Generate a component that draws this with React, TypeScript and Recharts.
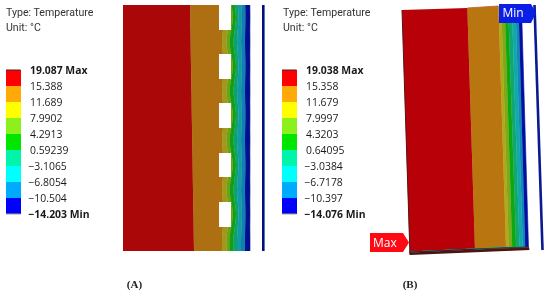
import React from "react";
import {
  Area,
  Bar,
  BarChart,
  ComposedChart,
  ReferenceArea,
  ReferenceDot,
  ReferenceLine,
  XAxis,
  YAxis,
} from "recharts";

// Scale labels, top to bottom
const labelsA = ["19.087 Max", "15.388", "11.689", "7.9902", "4.2913", "0.59239", "\u22123.1065", "\u22126.8054", "\u221210.504", "\u221214.203 Min"];
const labelsB = ["19.038 Max", "15.358", "11.679", "7.9997", "4.3203", "0.64095", "\u22123.0384", "\u22126.7178", "\u221210.397", "\u221214.076 Min"];

// Contour band names, hottest to coldest
const bandKeys = ["red", "orange", "olive", "lime", "green", "tealGreen", "teal", "sky", "blue"];
const scaleColors = ["#ff0000", "#ffaa08", "#ffff00", "#8cf01e", "#00e600", "#00f5aa", "#00ffff", "#00aaff", "#0000ff"];
const bandColorsA = ["#aa0808", "#ad6f12", "#a09a18", "#70a018", "#10a010", "#10a070", "#109ca4", "#1080b0", "#001090"];
const bandColorsB = ["#b80008", "#b87510", "#b0a818", "#80a818", "#10a810", "#10a870", "#10a8a8", "#1088b8", "#0010a0"];

// Panel A: thickness of each band along the wall height
const rowsA = [0, 12, 25, 37, 49, 61, 74, 86, 98, 110, 123, 135, 148, 160, 172, 185, 197, 209, 222, 234, 246];
const redA = [67, 67.2, 67.4, 67.6, 67.8, 68, 68.2, 68.4, 68.6, 68.8, 69, 69.2, 69.4, 69.6, 69.8, 70, 70.2, 70.4, 70.6, 70.8, 71];
const orangeA = [33, 33.8, 32.6, 31.4, 32.2, 33, 31.8, 30.6, 31.4, 32.2, 31, 29.8, 30.6, 31.4, 30.2, 29, 29.8, 30.6, 29.4, 28.2, 28];
const oliveA = [4.8, 5, 4.8, 4.5, 4.8, 5, 4.8, 4.5, 4.8, 5, 4.8, 4.5, 4.8, 5, 4.8, 4.5, 4.8, 5, 4.8, 4.5, 4.5];
const limeA = [3.5, 4, 3.5, 3, 3.5, 4, 3.5, 3, 3.5, 4, 3.5, 3, 3.5, 4, 3.5, 3, 3.5, 4, 3.5, 3, 3];
const greenA = [3.5, 3, 3.5, 4, 3.5, 3, 3.5, 4, 3.5, 3, 3.5, 4, 3.5, 3, 3.5, 4, 3.5, 3, 3.5, 4, 4];
const tealGreenA = [3, 2.5, 3, 3.5, 3, 2.5, 3, 3.5, 3, 2.5, 3, 3.5, 3, 2.5, 3, 3.5, 3, 2.5, 3, 3.5, 3.5];
const tealA = [3.7, 3.5, 3.7, 4, 3.7, 3.5, 3.7, 4, 3.7, 3.5, 3.7, 4, 3.7, 3.5, 3.7, 4, 3.7, 3.5, 3.7, 4, 4];
const skyA = [3.7, 3.5, 3.7, 4, 3.7, 3.5, 3.7, 4, 3.7, 3.5, 3.7, 4, 3.7, 3.5, 3.7, 4, 3.7, 3.5, 3.7, 4, 4];
const blueA = [4.7, 4.5, 4.7, 5, 4.7, 4.5, 4.7, 5, 4.7, 4.5, 4.7, 5, 4.7, 4.5, 4.7, 5, 4.7, 4.5, 4.7, 5, 5];
const bandsA = [redA, orangeA, oliveA, limeA, greenA, tealGreenA, tealA, skyA, blueA];
const notchTopsA = [0, 49, 98, 148, 197];
const notchBottomsA = [25, 74, 123, 172, 222];

// Panel B: oblique view, start of the stack and thickness of each band per row
const rowsB = [6, 8, 10, 247, 249, 252];
const startB = [498.3, 467.3, 402, 409.5, 409.5, 409.5];
const redB = [0, 0, 65.4, 65.4, 65.5, 0];
const orangeB = [0, 31.3, 31.2, 31.1, 0, 0];
const oliveB = [2.7, 2.7, 2.7, 2.8, 0, 0];
const limeB = [3.5, 3.5, 3.5, 3.4, 0, 0];
const greenB = [3.5, 3.5, 3.5, 4, 0, 0];
const tealGreenB = [3.7, 3.7, 3.7, 3.3, 0, 0];
const tealB = [3.6, 3.6, 3.6, 3.3, 0, 0];
const skyB = [3, 3, 3, 2.4, 0, 0];
const blueB = [3, 3, 3, 3.3, 0, 0];
const bandsB = [redB, orangeB, oliveB, limeB, greenB, tealGreenB, tealB, skyB, blueB];
const undersideRowsB = [247, 250, 252, 255];
const undersideStartB = [529, 457, 409.5, 410];
const undersideWidthB = [0, 72.5, 72.2, 0];

const tableA = rowsA.map((y, i) => {
  const row: Record<string, number> = { y };
  bandKeys.forEach((k, b) => (row[k] = bandsA[b][i]));
  return row;
});
const tableB = rowsB.map((y, i) => {
  const row: Record<string, number> = { y, start: startB[i] };
  bandKeys.forEach((k, b) => (row[k] = bandsB[b][i]));
  return row;
});
const tableUnder = undersideRowsB.map((y, i) => ({ y, start: undersideStartB[i], width: undersideWidthB[i] }));

const UI_FONT = "'Open Sans', 'Noto Sans', sans-serif";

function ScaleChart({ labels, left }: { labels: string[]; left: number }) {
  const row: Record<string, number | string> = { name: "scale" };
  bandKeys.forEach((k) => (row[k] = 1));
  const Tick = (props: any) => {
    const text = labels[9 - props.payload.value];
    const bold = text.includes("M");
    return (
      <text
        x={24 - (text[0] === "\u2212" ? 1.6 : 0)}
        y={props.y}
        dy={3.8}
        fontFamily={UI_FONT}
        fontSize={10.4}
        fontWeight={bold ? 700 : 400}
        fill="#1a1a1a"
      >
        {text}
      </text>
    );
  };
  return (
    <div style={{ position: "absolute", left, top: 60 }}>
      <BarChart
        width={100}
        height={164}
        data={[row]}
        margin={{ top: 10, bottom: 10, left: 0, right: 0 }}
        barCategoryGap={0}
      >
        <XAxis dataKey="name" hide />
        <YAxis
          type="number"
          domain={[0, 9]}
          ticks={[0, 1, 2, 3, 4, 5, 6, 7, 8, 9]}
          orientation="right"
          width={85.5}
          axisLine={false}
          tickLine={false}
          tick={Tick}
          interval={0}
        />
        {[...bandKeys].reverse().map((k, i) => (
          <Bar key={k} dataKey={k} stackId="s" fill={scaleColors[8 - i]} isAnimationActive={false} />
        ))}
        <ReferenceLine y={9} stroke="#3a2a2a" strokeWidth={1} />
        <ReferenceLine y={0} stroke="#b0a070" strokeWidth={1} />
      </BarChart>
    </div>
  );
}

function Heading({ left }: { left: number }) {
  return (
    <div
      style={{
        position: "absolute",
        left,
        top: 6,
        fontFamily: "Roboto, 'Open Sans', sans-serif",
        fontSize: 10.6,
        lineHeight: "14.5px",
        color: "#333",
        whiteSpace: "nowrap",
      }}
    >
      <div>Type: Temperature</div>
      <div>Unit: °C</div>
    </div>
  );
}

function Caption({ center, text }: { center: number; text: string }) {
  return (
    <div
      style={{
        position: "absolute",
        left: center - 20,
        width: 40,
        top: 277,
        textAlign: "center",
        fontFamily: "'Liberation Serif', serif",
        fontWeight: 700,
        fontSize: 11,
        lineHeight: "14px",
        color: "#222",
      }}
    >
      ({text})
    </div>
  );
}

function PanelA() {
  return (
    <div style={{ position: "absolute", left: 123, top: 5 }}>
      <ComposedChart width={142} height={246} layout="vertical" data={tableA} margin={{ top: 0, right: 0, bottom: 0, left: 0 }}>
        <XAxis type="number" domain={[0, 142]} hide />
        <YAxis type="number" dataKey="y" domain={[0, 246]} hide />
        {bandKeys.map((k, i) => (
          <Area
            key={k}
            dataKey={k}
            stackId="a"
            type="monotone"
            fill={bandColorsA[i]}
            fillOpacity={1}
            stroke={bandColorsA[i]}
            strokeWidth={0.6}
            dot={false}
            activeDot={false}
            isAnimationActive={false}
          />
        ))}
        {notchTopsA.map((t, i) => (
          <ReferenceArea key={t} x1={96} x2={108} y1={t} y2={notchBottomsA[i]} fill="#ffffff" fillOpacity={1} stroke="none" />
        ))}
        <ReferenceArea x1={139} x2={141.6} y1={0} y2={246} fill="#00107f" fillOpacity={1} stroke="none" />
      </ComposedChart>
    </div>
  );
}

const Callout = (props: any) => {
  const { cx, cy, dir, text, fill } = props;
  const pts =
    dir === "left"
      ? `${cx - 39},${cy - 9.5} ${cx - 6},${cy - 9.5} ${cx},${cy} ${cx - 6},${cy + 9.5} ${cx - 39},${cy + 9.5}`
      : `${cx - 37},${cy - 9} ${cx - 5},${cy - 9} ${cx},${cy} ${cx - 5},${cy + 10} ${cx - 37},${cy + 10}`;
  return (
    <g>
      <polygon points={pts} fill={fill} />
      <text
        x={cx - (dir === "left" ? 36 : 33.5)}
        y={cy + 4.3}
        fontFamily={UI_FONT}
        fontSize={12}
        fill="#ffffff"
      >
        {text}
      </text>
    </g>
  );
};

function PanelB() {
  return (
    <div style={{ position: "absolute", left: 275, top: 0 }}>
      <ComposedChart width={275} height={293} layout="vertical" data={tableB} margin={{ top: 0, right: 0, bottom: 0, left: 0 }}>
        <XAxis type="number" domain={[275, 550]} hide allowDataOverflow />
        <YAxis type="number" dataKey="y" domain={[0, 293]} hide />
        <Area
          data={tableUnder}
          dataKey="start"
          stackId="under"
          type="linear"
          fill="none"
          stroke="none"
          dot={false}
          activeDot={false}
          isAnimationActive={false}
        />
        <Area
          data={tableUnder}
          dataKey="width"
          stackId="under"
          type="linear"
          fill="#4a1410"
          fillOpacity={1}
          stroke="none"
          dot={false}
          activeDot={false}
          isAnimationActive={false}
        />
        <Area dataKey="start" stackId="b" type="linear" fill="none" stroke="none" dot={false} activeDot={false} isAnimationActive={false} />
        {bandKeys.map((k, i) => (
          <Area
            key={k}
            dataKey={k}
            stackId="b"
            type="linear"
            fill={bandColorsB[i]}
            fillOpacity={1}
            stroke={bandColorsB[i]}
            strokeWidth={0.6}
            dot={false}
            activeDot={false}
            isAnimationActive={false}
          />
        ))}
        <ReferenceLine segment={[{ x: 475, y: 249.3 }, { x: 409.5, y: 252.3 }]} stroke="#5a1410" strokeWidth={1} />
        <ReferenceLine segment={[{ x: 529, y: 247.3 }, { x: 475, y: 249.3 }]} stroke="#5a3a10" strokeWidth={1} />
        <ReferenceLine segment={[{ x: 402, y: 10 }, { x: 410, y: 255 }]} stroke="#5a1414" strokeWidth={1} />
        <ReferenceLine segment={[{ x: 534.5, y: 5 }, { x: 542.5, y: 250 }]} stroke="#0a1a90" strokeWidth={2.6} />
        <ReferenceDot x={409} y={242.5} r={1} shape={(p: any) => <Callout {...p} dir="left" text="Max" fill="#ff0a14" />} />
        <ReferenceDot x={536} y={13} r={1} shape={(p: any) => <Callout {...p} dir="right" text="Min" fill="#0a1ee6" />} />
      </ComposedChart>
    </div>
  );
}

export default function App() {
  return (
    <div style={{ position: "absolute", left: 0, top: 0, width: 550, height: 293, background: "#fff", overflow: "hidden", filter: "blur(0.3px)" }}>
      <Heading left={6} />
      <Heading left={283} />
      <ScaleChart labels={labelsA} left={6} />
      <ScaleChart labels={labelsB} left={282} />
      <PanelA />
      <PanelB />
      <Caption center={134.5} text="A" />
      <Caption center={410} text="B" />
    </div>
  );
}
